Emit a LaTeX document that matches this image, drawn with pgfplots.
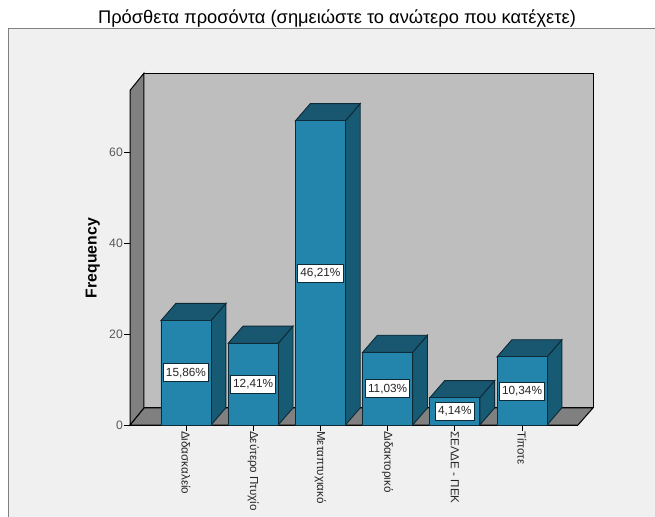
\documentclass[border=0pt]{standalone}
\usepackage{pgfplots}
\pgfplotsset{compat=1.18}
\usepackage{fontspec}
\setmainfont{Liberation Sans}
\definecolor{panel}{HTML}{F0F0F0}
\definecolor{wall}{HTML}{BEBEBE}
\definecolor{floorc}{HTML}{808080}
\definecolor{front}{HTML}{2385AB}
\definecolor{topc}{HTML}{19566F}
\definecolor{sidec}{HTML}{175A73}
\definecolor{edge}{HTML}{0E2A36}
% one 3D block: side and top faces of a bar (position, value)
\newcommand\blockfaces[2]{%
  \pgfmathsetmacro\xl{#1-0.372}%
  \pgfmathsetmacro\xr{#1+0.372}%
  \pgfmathsetmacro\xlb{#1-0.372+0.2208}%
  \pgfmathsetmacro\xrb{#1+0.372+0.2208}%
  \pgfmathsetmacro\yt{#2+3.78}%
  \addplot[fill=sidec,draw=edge,line width=0.9pt] coordinates {(\xr,0) (\xrb,3.78) (\xrb,\yt) (\xr,#2)} --cycle;
  \addplot[fill=topc,draw=edge,line width=0.9pt] coordinates {(\xl,#2) (\xr,#2) (\xrb,\yt) (\xlb,\yt)} --cycle;
}
\begin{document}
\begin{tikzpicture}[x=1pt,y=1pt]
\useasboundingbox (0,0) rectangle (655,-516);
\fill[white] (0,0) rectangle (655,-516);
\fill[panel] (8.5,-28.5) rectangle (656,-517);
\draw[gray,line width=1pt] (8.5,-517) -- (8.5,-28.5) -- (656,-28.5);
\begin{axis}[
  at={(130pt,-425pt)}, anchor=south west,
  scale only axis, width=448pt, height=333.7pt,
  xmin=-0.833, xmax=5.833, ymin=0, ymax=73.5,
  clip=false, no markers,
  axis x line=bottom, axis y line=left,
  axis line style={-,black,line width=1pt},
  tick style={black,line width=0.8pt},
  major tick length=6pt,
  tick align=outside,
  xtick={0,1,2,3,4,5},
  xticklabels={Διδασκαλείο,Δεύτερο Πτυχίο,Μεταπτυχιακό,Διδακτορικό,ΣΕΛΔΕ - ΠΕΚ,Τίποτε},
  x tick label style={rotate=-90,anchor=west,font=\fontsize{11.6}{14}\selectfont,text=black!85,inner sep=0pt},
  ytick={0,20,40,60},
  yticklabel style={font=\fontsize{12.2}{14}\selectfont,text=black!65,inner sep=1pt},
  /pgf/number format/assume math mode=true,
  ylabel={\textbf{Frequency}},
  ylabel style={at={(axis description cs:-0.083,0.5)},anchor=center,rotate=0,font=\fontsize{15.8}{18}\selectfont},
  title={Πρόσθετα προσόντα (σημειώστε το ανώτερο που κατέχετε)},
  title style={at={(axis description cs:0.462,1.199)},anchor=center,yshift=0pt,font=\fontsize{18.3}{20}\selectfont,inner sep=0pt},
  axis on top=false,
]
% walls
\addplot[fill=wall,draw=black,line width=1pt] coordinates {(-0.625,3.78) (6.057,3.78) (6.057,77.5) (-0.625,77.5)} --cycle;
\addplot[fill=floorc,draw=black,line width=1pt] coordinates {(-0.833,0) (5.833,0) (6.057,3.78) (-0.625,3.78)} --cycle;
\addplot[fill=floorc,draw=black,line width=1pt] coordinates {(-0.833,0) (-0.625,3.78) (-0.625,77.5) (-0.833,73.7)} --cycle;
% 3D faces
\blockfaces{0}{23}
\blockfaces{1}{18}
\blockfaces{2}{67}
\blockfaces{3}{16}
\blockfaces{4}{6}
\blockfaces{5}{15}
% front faces
\addplot[ybar,bar width=50pt,fill=front,draw=edge,line width=0.9pt] coordinates {(0,23) (1,18) (2,67) (3,16) (4,6) (5,15)};
% percent labels at bar mid-height
\addplot[draw=none,
  nodes near coords, point meta=explicit symbolic,
  nodes near coords align=center,
  every node near coord/.append style={fill=white,draw=edge,line width=0.8pt,font=\fontsize{11.8}{13}\selectfont,text=black!85,inner xsep=2.5pt,inner ysep=0pt,minimum height=18pt,anchor=center,yshift=0pt}]
  coordinates {(0,11.5)[15,86\%] (1,9)[12,41\%] (2,33.5)[46,21\%] (3,8)[11,03\%] (4,3)[4,14\%] (5,7.5)[10,34\%]};
\end{axis}
\end{tikzpicture}
\end{document}
